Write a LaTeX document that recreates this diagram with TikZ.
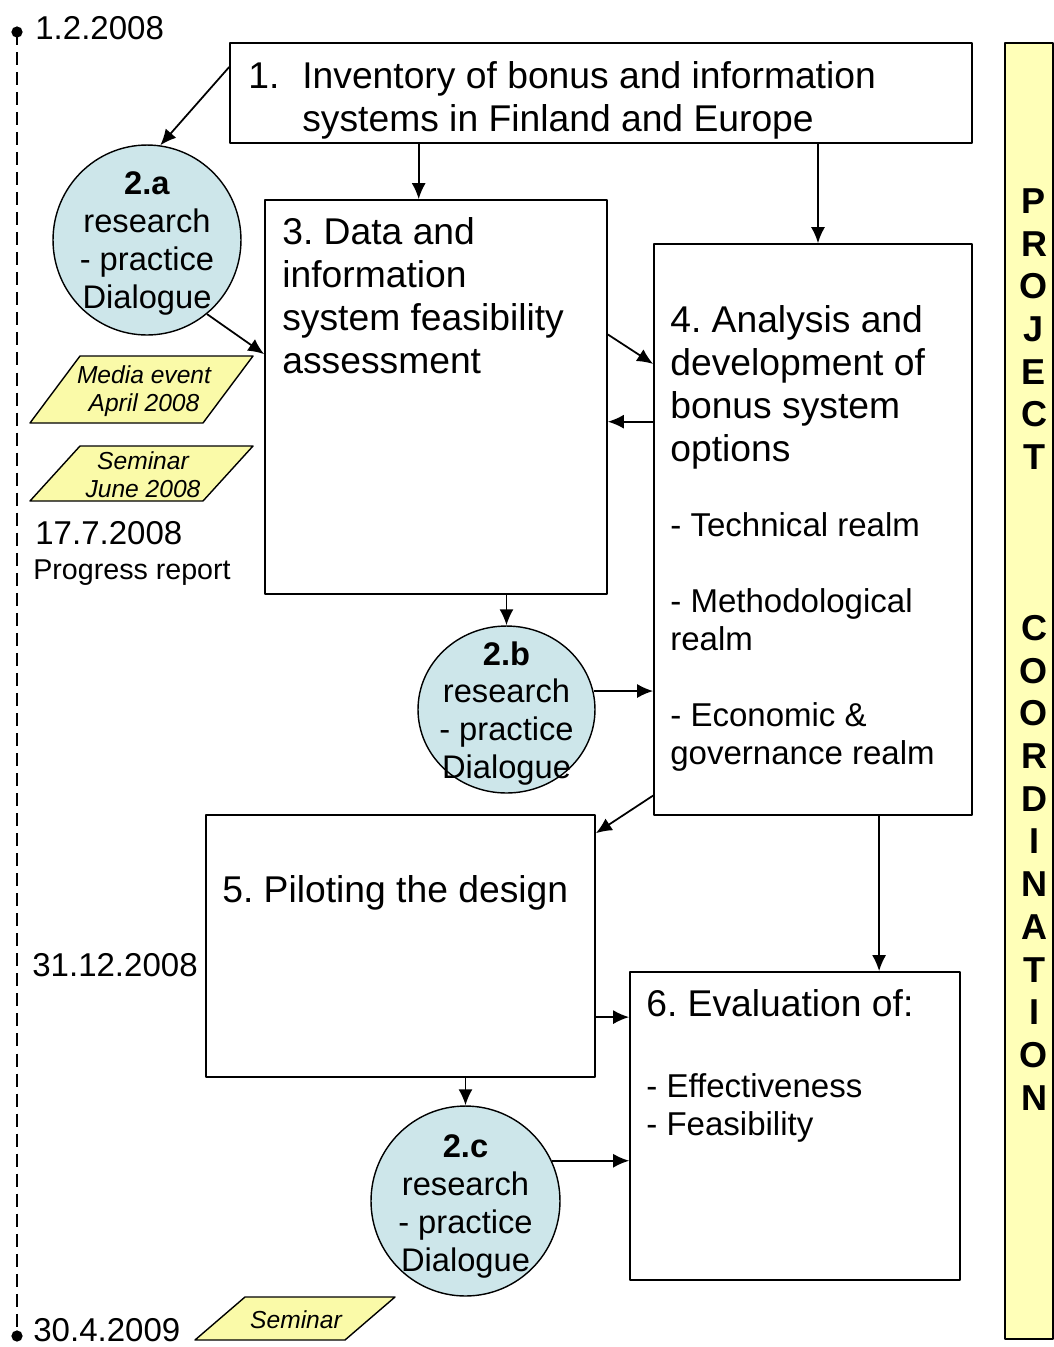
\documentclass[tikz,border=0pt]{standalone}
\usepackage{fontspec}
\setmainfont{Liberation Sans}
\frenchspacing
\usetikzlibrary{arrows.meta,shapes.geometric}
\definecolor{dlgblue}{RGB}{205,230,234}
\definecolor{evtyellow}{RGB}{250,250,168}
\definecolor{sideyellow}{RGB}{255,255,184}
\begin{document}
\begin{tikzpicture}[x=0.02cm,y=-0.02cm,>={Latex[length=3.2mm,width=2.8mm]},line join=round,
        box/.style={draw,line width=1pt,inner sep=0pt},
        dlg/.style={ellipse,draw,fill=dlgblue,line width=0.8pt,inner sep=0pt},
        big/.style={inner sep=0pt,anchor=north west,align=left,font=\fontsize{21.2}{24.5}\selectfont},
        small/.style={inner sep=0pt,anchor=north west,align=left,font=\fontsize{18.8}{21.6}\selectfont},
        dlgtext/.style={inner sep=0pt,align=center,font=\fontsize{18.6}{21.6}\selectfont},
        evt/.style={draw,fill=evtyellow,line width=0.8pt},
        evttext/.style={inner sep=0pt,align=center,font=\fontsize{14}{16}\selectfont\itshape},
        date/.style={inner sep=0pt,anchor=west,font=\fontsize{18.8}{21.6}\selectfont},
        side/.style={inner sep=0pt,font=\fontsize{20.5}{24}\selectfont\bfseries},
        conn/.style={->,line width=1pt}]
        \useasboundingbox (0,0) rectangle (1054,1347);

        \coordinate (tstart) at (17,32);
        \coordinate (tend) at (17,1336);
        \draw[line width=1.3pt,dash pattern=on 7.4pt off 4pt] (tstart) -- (tend);
        \fill (tstart) circle (3.2pt) (tend) circle (3.2pt);
        \node[date] (d1) at (35,28) {1.2.2008};
        \node[date] (d2) at (35,533) {17.7.2008};
        \node[date,anchor=base west,font=\fontsize{16.3}{18}\selectfont] (d3) at (33,579) {Progress report};
        \node[date] (d4) at (32,965) {31.12.2008};
        \node[date] (d5) at (33,1330) {30.4.2009};

        \node[box,minimum width=14.84cm,minimum height=2cm] (b1) at (601,93) {};
        \node[box,minimum width=6.84cm,minimum height=7.88cm] (b3) at (436,397) {};
        \node[box,minimum width=6.36cm,minimum height=11.42cm] (b4) at (813,529.5) {};
        \node[box,minimum width=7.78cm,minimum height=5.24cm] (b5) at (400.5,946) {};
        \node[box,minimum width=6.6cm,minimum height=6.16cm] (b6) at (795,1126) {};
        \node[box,fill=sideyellow,minimum width=0.96cm,minimum height=25.92cm] (side) at (1029,691) {};

        \node[big] (t1) at (248,61) {\makebox[1.08cm][l]{1.}Inventory of bonus and information\\\hspace*{1.08cm}systems in Finland and Europe};
        \node[big] (t3) at (282,217) {3. Data and\\information\\system feasibility\\assessment};
        \node[big] (t4) at (670,305) {4. Analysis and\\development of\\bonus system\\options};
        \node[small] (t4b) at (670,512) {- Technical realm\\[0.76cm]- Methodological\\realm\\[0.76cm]- Economic \&\\governance realm};
        \node[big] (t5) at (222,875) {5. Piloting the design};
        \node[big] (t6) at (646,989) {6. Evaluation of:};
        \node[small] (t6b) at (646,1073) {- Effectiveness\\- Feasibility};

        \node[dlg,minimum width=3.76cm,minimum height=3.8cm] (d2a) at (147,240) {};
        \node[dlgtext] (t2a) at (147,243.5) {\textbf{2.a}\\research\\- practice\\Dialogue};
        \node[dlg,minimum width=3.54cm,minimum height=3.34cm] (d2b) at (506.5,709.5) {};
        \node[dlgtext] (t2b) at (506.5,713.5) {\textbf{2.b}\\research\\- practice\\Dialogue};
        \node[dlg,minimum width=3.78cm,minimum height=3.8cm] (d2c) at (465.5,1201) {};
        \node[dlgtext] (t2c) at (465.5,1206.5) {\textbf{2.c}\\research\\- practice\\Dialogue};

        \draw[evt] (30,423) -- (80,356) -- (253,356) -- (203,423) -- cycle;
        \node[evttext] (e1) at (144,391) {Media event\\April 2008};
        \draw[evt] (30,501) -- (80,446) -- (253,446) -- (203,501) -- cycle;
        \node[evttext] (e2) at (143,475) {Seminar\\June 2008};
        \draw[evt] (195,1340) -- (245,1297) -- (395,1297) -- (345,1340) -- cycle;
        \node[evttext] (e3) at (296,1320) {Seminar};

        \foreach \ch [count=\i] in {P,R,O,J,E,C,T}
            \node[side] (p\i) at (1034,{201+(\i-1)*42.7}) {\ch};
        \foreach \ch [count=\i] in {C,O,O,R,D,I,N,A,T,I,O,N}
            \node[side] (c\i) at (1034,{628+(\i-1)*42.7}) {\ch};

        \draw[conn] (b1.176) -- (d2a.82);
        \draw[conn] (b1.south -| b3.95) -- (b3.95);
        \draw[conn] (b1.south -| b4.89) -- (b4.89);
        \draw[conn] (d2a.-51) -- (b3.166);
        \draw[conn] (b3.20) -- (b4.134);
        \draw[conn] (b4.146) -- (b4.146 -| b3.east);
        \draw[conn] (b3.south -| d2b.north) -- (d2b.north);
        \draw[conn] (d2b.12) -- (d2b.12 -| b4.west);
        \draw[conn] (b4.239) -- (b5.30);
        \draw[conn] (b4.-77) -- (b4.-77 |- b6.north);
        \draw[conn] (b5.-20) -- (b5.-20 -| b6.west);
        \draw[conn] (b5.south -| d2c.north) -- (d2c.north);
        \draw[conn] (d2c.25) -- (d2c.25 -| b6.west);
    \end{tikzpicture}
\end{document}
